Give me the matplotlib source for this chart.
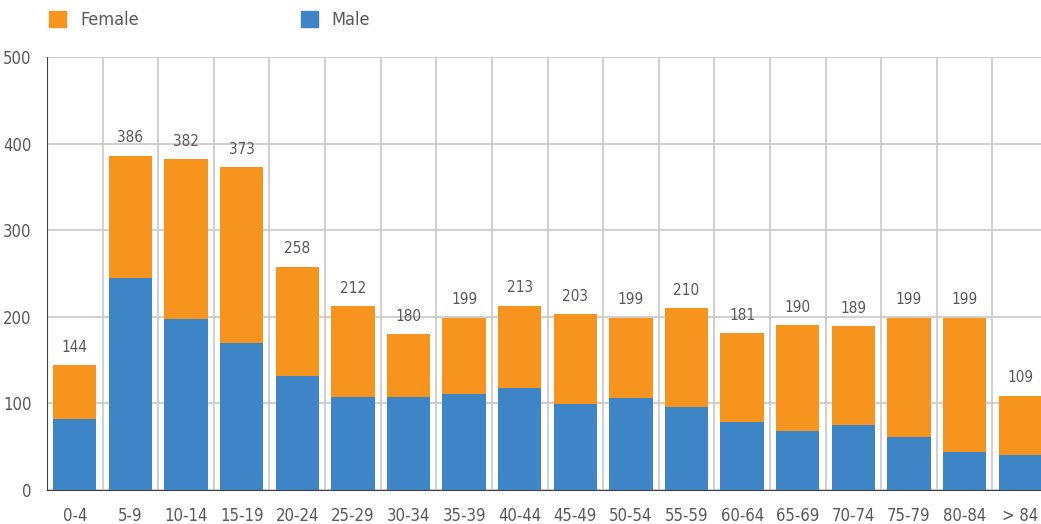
import numpy as np
import matplotlib
matplotlib.use("Agg")
import matplotlib.pyplot as plt
from matplotlib.patches import Patch

ages = ["0-4", "5-9", "10-14", "15-19", "20-24", "25-29", "30-34", "35-39", "40-44",
        "45-49", "50-54", "55-59", "60-64", "65-69", "70-74", "75-79", "80-84", "> 84"]
total = [144, 386, 382, 373, 258, 212, 180, 199, 213, 203, 199, 210, 181, 190, 189, 199, 199, 109]
male = [82, 245, 197, 170, 132, 107, 107, 111, 118, 99, 106, 96, 79, 68, 75, 61, 44, 40]
female = [t - m for t, m in zip(total, male)]

orange = "#F7941E"
blue = "#3D85C6"
txt = "#595959"

plt.rcParams['font.family'] = ['DejaVu Sans']
plt.rcParams['font.stretch'] = 'condensed'

fig = plt.figure(figsize=(10.41, 5.24), dpi=100)
ax = fig.add_axes([47 / 1041, (524 - 490) / 524, (1048 - 47) / 1041, (490 - 57) / 524])

x = np.arange(len(ages))
ax.bar(x, male, width=0.78, color=blue, zorder=3)
ax.bar(x, female, bottom=male, width=0.78, color=orange, zorder=3)

for xi, t in zip(x, total):
    ax.text(xi, t + 12, str(t), ha="center", va="bottom", fontsize=11, color=txt, zorder=4)

ax.set_xlim(-0.5, len(ages) - 0.5)
ax.set_ylim(0, 500)
ax.set_yticks([0, 100, 200, 300, 400, 500])
ax.set_xticks(x)
ax.set_xticklabels(ages)
ax.set_xticks(np.arange(len(ages) + 1) - 0.5, minor=True)
ax.tick_params(axis="both", which="both", length=0, labelsize=12, colors=txt)
ax.tick_params(axis="x", pad=12)
ax.tick_params(axis="y", pad=11)
ax.grid(axis="y", which="major", color="#C8C8C8", lw=1.2, zorder=0)
ax.grid(axis="x", which="minor", color="#C8C8C8", lw=1.2, zorder=0)
ax.grid(axis="x", which="major", visible=False)
for s in ["top", "right"]:
    ax.spines[s].set_visible(False)
ax.spines["left"].set_color("#404040")
ax.spines["bottom"].set_color("#404040")
ax.spines["bottom"].set_zorder(4)

handles = [Patch(color=orange, label="Female"), Patch(color=blue, label="Male")]
fig.legend(handles=handles, loc="upper left", bbox_to_anchor=(33 / 1041, 1.01), ncol=2,
           frameon=False, fontsize=13, labelcolor=txt, handlelength=0.95, handleheight=0.95,
           handletextpad=0.75, columnspacing=9.0)

fig.savefig("out.png", dpi=100)
